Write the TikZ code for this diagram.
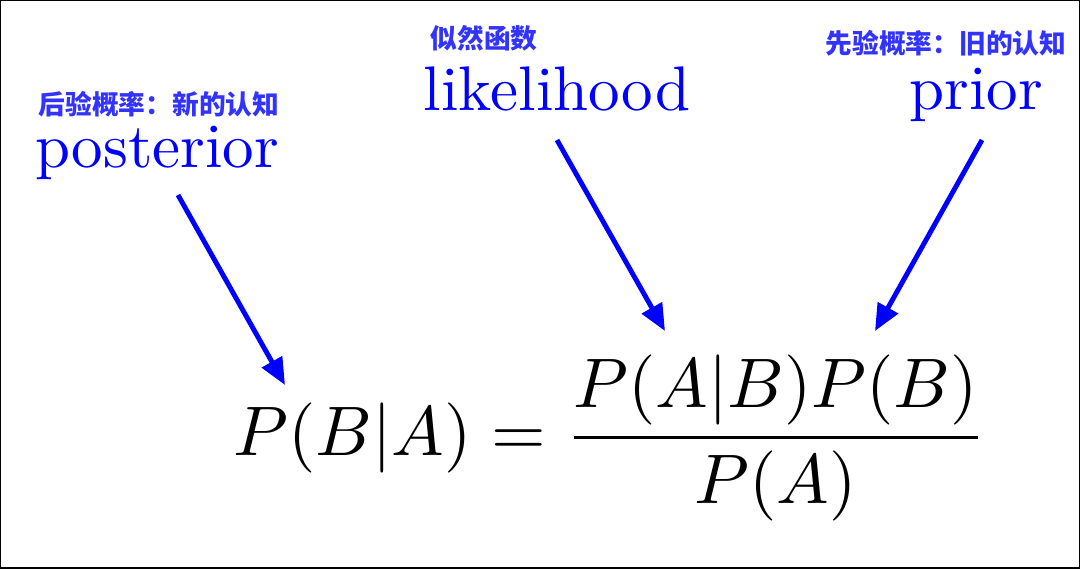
\documentclass[tikz,border=0pt]{standalone}
\usepackage{fontspec}
\newfontfamily\cjk{Noto Sans CJK SC}
\usepackage{xcolor}
\usepackage{tikz}
\usetikzlibrary{calc,positioning,arrows.meta}
\definecolor{noteblue}{RGB}{51,51,255}
\tikzset{
  word/.style={text=blue,inner sep=0pt,anchor=base,scale=4.48},
  note/.style={text=noteblue,inner sep=0pt,font=\cjk\bfseries\fontsize{19}{21}\selectfont},
  pointer/.style={draw=blue,line width=3.5pt,-{Triangle[length=19pt,width=16pt]}},
}
\begin{document}
\begin{tikzpicture}[x=0.025cm,y=-0.025cm]
  \useasboundingbox (0,0) rectangle (1080,568);
  \draw[line width=1.2pt] (0,0) rectangle (1080,568);
  % labels above the formula
  \node[note] (postcn)  at (159,104) {后验概率：新的认知};
  \node[word] (post)    at (157,167) {posterior};
  \node[note] (likecn)  at (484,38)  {似然函数};
  \node[word] (like)    at (557,110) {likelihood};
  \node[note] (priorcn) at (946,43)  {先验概率：旧的认知};
  \node[word] (prior)   at (976,109) {prior};
  % Bayes formula
  \node[inner sep=0pt,anchor=west,scale=4.99] (eq) at (232,438)
    {$\displaystyle P(B|A)=\frac{P(A|B)P(B)}{P(A)}$};
  % arrow ends
  \coordinate (spost)  at (178,195);
  \coordinate (tpost)  at (285,385);
  \coordinate (slike)  at (557,140);
  \coordinate (tlike)  at (665,331);
  \coordinate (sprior) at (982,140);
  \coordinate (tprior) at (875,331);
  \draw[pointer] (spost) -- (tpost);
  \draw[pointer] (slike) -- (tlike);
  \draw[pointer] (sprior) -- (tprior);
\end{tikzpicture}
\end{document}
